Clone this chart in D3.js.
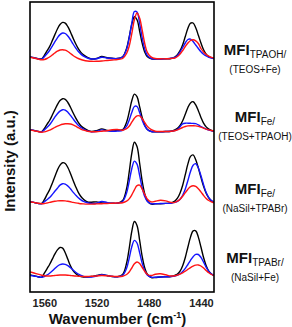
<!DOCTYPE html>
<html>
<head>
<meta charset="utf-8">
<script src="https://cdn.jsdelivr.net/npm/d3@7"></script>
<style>
  html, body { margin: 0; padding: 0; background: #fff; }
  svg { display: block; }
  text { font-family: "Liberation Sans", Arial, Helvetica, sans-serif; }
</style>
</head>
<body>
<div id="chart"></div>
<script>
// ---------- data ----------
const wavenumbers = [1571,1568,1565,1562,1560,1558,1556,1554,1552,1550,1548,1546,1544,1542,1540,1538,1536,1534,1532,1530,1527,1524,1520,1516,1512,1508,1504,1500,1497,1495,1493,1491,1489,1487,1485,1483,1481,1478,1475,1471,1467,1463,1460,1458,1456,1454,1452,1450,1448,1446,1444,1442,1440,1438,1436,1434,1432,1430];

// MFI TPAOH/(TEOS+Fe)
const panel1Black = [1,0.3,-0.7,-0.8,2.6,7.1,11.4,17.1,23.1,29,33.5,35.6,34.9,31.3,26,19.9,14.2,9.3,5.6,3.1,0.6,-1,-0.5,1.5,0.3,-0.3,-0.5,1.3,9.6,20.8,33.7,41.2,38.3,27,14.6,5.8,1.2,-0.8,-1,-1,-0.7,-0.5,1,3.4,7.3,13.3,21.5,29.8,34.8,35,30.3,22.8,15,8.2,3.9,1.4,0.3,-0.5];
const panel1Blue = [1,0.3,-0.7,-1.2,1.3,4.2,7.5,11.6,16.1,20.2,23.4,25,24.5,22,18.3,14,10,6.5,3.9,1.9,0,-1,-0.7,0.8,0,-0.5,-0.5,1,8.6,20,34.7,46.5,46,34.7,20,8.6,2.4,-0.5,-1,-1,-0.7,-0.3,0.5,2.5,6,10.5,15,18.5,18.8,16.5,13,9.5,6.3,3.8,2,0.7,0,-0.5];
const panel1Red = [0.8,0,-1,-1.8,-1.5,-0.5,1,3,5,6.8,8,8.3,7.8,6.5,4.5,2.5,0.8,-0.5,-1.5,-2.3,-3,-3.3,-3.3,-3,-2.5,-2,-1.5,-0.5,4.5,11.7,24.3,38.3,45,40,27.5,14,5.4,0.8,-0.5,-0.8,-0.8,-0.5,0,1.5,4,7.5,11.5,15,17.5,18.3,17.2,14.5,9.5,6,3.5,1.8,0.6,0];

// MFI Fe/(TEOS+TPAOH)
const panel2Black = [1,0.3,-0.7,-0.9,2.2,6.4,10.2,15.4,20.8,26.1,30.1,32,31.4,28.2,23.4,17.9,12.8,8.3,5,2.8,0.5,-0.8,0,1.8,0.3,-0.3,0.3,1.1,8.5,18.5,30,36.6,34,24,13,5.2,1.2,-0.8,-1,-1,-0.8,-0.5,0.7,2.3,5.2,10,16.5,23.2,27.8,29,25.8,20,13.3,7.5,3.8,1.6,0.3,-0.5];
const panel2Blue = [1,0.3,-0.7,-1.2,0.8,3.2,5.9,9.6,13.5,17,19.6,21,20.6,18.5,15.3,11.8,8.4,5.5,3.3,1.5,-0.2,-1,-0.5,0.8,0,-0.5,-0.3,0.3,4.5,10.5,18.2,24.2,24.2,18.2,10.5,4.5,1,-0.8,-1,-1,-0.8,-0.5,0,1.2,4,6.8,7.5,7.5,7.4,7.3,7,5.8,4.2,2.8,1.5,0.6,0,-0.5];
const panel2Red = [0.8,0,-0.8,-1.5,-1.2,-0.5,0.5,1.8,3.2,4.5,5.6,6.4,6.9,7,6.7,5.8,4.5,3,1.6,0.5,-0.5,-1,-1,-0.5,0,1,1.2,0.5,2,4.5,8.5,12.5,14.8,14.8,12,8,4.2,1,-0.5,-0.8,-0.8,-0.5,0,0.8,2,3.2,4.2,4.8,5,5,4.8,4.3,3.5,2.6,1.6,0.8,0.2,-0.3];

// MFI Fe/(NaSil+TPABr)
const panel3Black = [1,0.3,-0.7,-0.7,3,8,12.8,19.2,26,32.6,37.6,40,39.2,35.2,29.2,22.4,16,10.4,6.2,3.4,0.7,0.5,0.8,-0.3,-0.5,-0.5,-0.5,2.2,14,30.5,49.4,60.4,56.1,39.7,21.4,8.5,1.5,-1.5,-1.2,-1,-0.7,-0.3,1.6,4.5,9.8,17.5,28,38.8,46.3,47.8,43,34.8,25.3,16.4,9.5,4.9,2,0.3];
const panel3Blue = [1,0.3,-0.7,-1.1,0.9,3,5.1,8.1,11.4,14.5,17.6,19,18.6,16.7,13.9,10.6,7.6,4.9,2.8,1.3,0,-0.7,-0.5,1.2,0.2,-0.5,-0.5,1.3,9.7,21,34,41.6,38.6,27.3,14.7,5.9,1.2,-1,-1,-0.8,-0.7,-0.5,0.4,1.3,3.4,7.4,13.7,22.2,31.2,37.4,39,34.7,26.9,17.9,10.1,5.1,2.2,0.8];
const panel3Red = [1,0.3,-0.5,-1,-0.8,-0.3,0.3,0.9,1.4,1.8,2,2,1.8,1.4,0.9,0.3,-0.2,-0.6,-1,-1.2,-1.4,-1.4,-1.2,-1,-0.8,-0.5,-0.3,0,1.5,3.8,7.8,12.8,17,17.5,13.5,8,3.5,0.8,1.5,2.5,1.8,0.2,0.3,1.5,3.5,6.5,10,13.5,16,17,16.3,14,10.8,7.3,4.3,2.2,0.8,0];

// MFI TPABr/(NaSil+Fe)
const panel4Black = [1,0.3,-0.7,-1.2,2.8,7.2,11.5,16.6,21.8,26.1,28.5,27.9,23.3,16.7,10.2,5.3,2.4,0.5,-0.5,-1,-1,-0.5,0.5,1.5,0.5,-0.5,-0.8,1.6,12.7,27.5,44.6,54.5,50.6,35.8,19.3,7.7,1.5,-1.5,-1.5,-1,-0.8,-0.5,0.7,2,4.9,10.3,18.5,29,38.9,45.2,45.2,38.9,29,18.5,10.3,4.9,2,0.5];
const panel4Blue = [0.5,0,-0.7,-1.3,-0.5,1,2.8,5,7.5,9.8,11.3,12,11.6,10.3,8.3,6,3.8,2,0.7,-0.3,-1,-1,0,1.3,0.5,-0.5,-0.8,0.6,7.7,17.6,29.2,35.6,33,23.4,12.6,5,0.8,-1.2,-1.2,-1,-0.8,-0.5,0,0.8,2.3,4.5,7.6,11.5,15.6,19.3,21.6,21.5,18.6,13.8,8.7,4.6,2,0.5];
const panel4Red = [4,3,1.8,0.8,0.3,0,0,0.2,0.5,0.8,1,1,1,0.8,0.5,0.2,0,-0.2,-0.4,-0.5,-0.5,-0.3,0,0.5,0.2,-0.3,-0.5,-0.2,1.5,4,8,12.2,14,12.5,8.5,4.5,1.5,0.5,1.8,2.2,1.2,0,0.2,0.8,1.8,3.2,4.8,6.6,8.4,9.9,10.9,11,10,8,5.5,3.2,1.5,0.5];

// vertical stacking offset of each panel (a.u.)
const panelOffsets = [218, 145.3, 73.3, 0];
const labelMain = ["MFI", "MFI", "MFI", "MFI"];
const labelSub = ["TPAOH/", "Fe/", "Fe/", "TPABr/"];
const labelSecond = ["(TEOS+Fe)", "(TEOS+TPAOH)", "(NaSil+TPABr)", "(NaSil+Fe)"];
const xTicks = [1560, 1520, 1480, 1440];
const seriesColors = ["#000000", "#1414ff", "#ff1414"];

const panels = [
  [panel1Black, panel1Blue, panel1Red],
  [panel2Black, panel2Blue, panel2Red],
  [panel3Black, panel3Blue, panel3Red],
  [panel4Black, panel4Blue, panel4Red]
];

// ---------- drawing ----------
const W = 292, H = 327;
const plot = { left: 30, right: 214, top: 2, bottom: 292 };

const svg = d3.select("#chart").append("svg")
  .attr("width", W).attr("height", H);

const x = d3.scaleLinear().domain([1571, 1430]).range([plot.left, plot.right]);
const y = d3.scaleLinear().domain([-16, 274]).range([plot.bottom, plot.top]);

svg.append("clipPath").attr("id", "clip")
  .append("rect")
  .attr("x", plot.left).attr("y", plot.top)
  .attr("width", plot.right - plot.left).attr("height", plot.bottom - plot.top);

const line = d3.line()
  .x(d => x(d[0]))
  .y(d => y(d[1]))
  .curve(d3.curveCatmullRom.alpha(0.5));

const g = svg.append("g").attr("clip-path", "url(#clip)");

panels.forEach((set, pi) => {
  set.forEach((vals, si) => {
    const pts = wavenumbers.map((w, i) => [w, vals[i] + panelOffsets[pi]]);
    g.append("path")
      .datum(pts)
      .attr("d", line)
      .attr("fill", "none")
      .attr("stroke", seriesColors[si])
      .attr("stroke-width", 1.4)
      .attr("stroke-linejoin", "round");
  });
});

// frame
svg.append("rect")
  .attr("x", plot.left).attr("y", plot.top)
  .attr("width", plot.right - plot.left).attr("height", plot.bottom - plot.top)
  .attr("fill", "none").attr("stroke", "#000").attr("stroke-width", 1.6);

// x axis tick labels
const xAxis = d3.axisBottom(x).tickValues(xTicks).tickSize(0).tickPadding(0).tickFormat(d3.format("d"));
const ax = svg.append("g").attr("transform", `translate(0,${plot.bottom})`).call(xAxis);
ax.select(".domain").remove();
ax.selectAll("text")
  .attr("dy", null)
  .attr("y", 15)
  .style("font-family", '"Liberation Sans", Arial, sans-serif')
  .style("font-size", "11px")
  .style("font-weight", "bold")
  .attr("fill", "#222");

// x title
const xt = svg.append("text")
  .attr("x", 117.5).attr("y", 323.5)
  .attr("text-anchor", "middle")
  .style("font-size", "15px").style("font-weight", "bold").attr("fill", "#111");
xt.append("tspan").text("Wavenumber (cm");
xt.append("tspan").text("-1").style("font-size", "9px").attr("dy", -6);
xt.append("tspan").text(")").attr("dy", 6);

// y title
svg.append("text")
  .attr("transform", "translate(14.5,161) rotate(-90)")
  .attr("text-anchor", "middle")
  .style("font-size", "15px").style("font-weight", "bold").attr("fill", "#111")
  .text("Intensity (a.u.)");

// sample labels
const labelY1 = [55, 122, 194, 263];
labelMain.forEach((m, i) => {
  const t = svg.append("text")
    .attr("x", 255).attr("y", labelY1[i])
    .attr("text-anchor", "middle").attr("fill", "#111");
  t.append("tspan").text(m).style("font-size", "15px").style("font-weight", "bold");
  t.append("tspan").text(labelSub[i]).style("font-size", "10px").attr("dy", 3);
  svg.append("text")
    .attr("x", 255).attr("y", labelY1[i] + 17.5)
    .attr("text-anchor", "middle").attr("fill", "#111")
    .style("font-size", "10px")
    .text(labelSecond[i]);
});
</script>
</body>
</html>
